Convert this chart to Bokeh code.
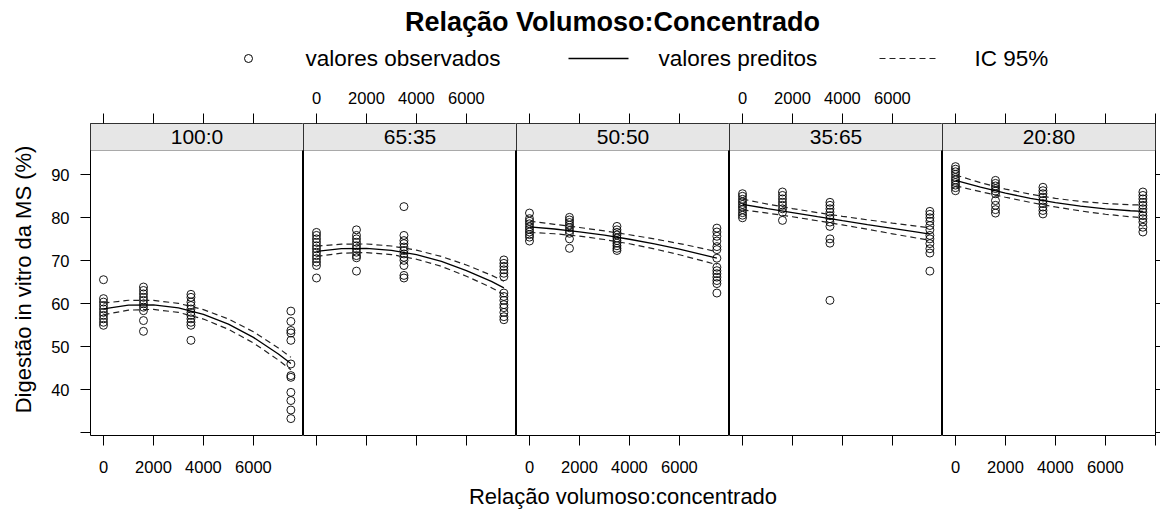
from bokeh.plotting import figure
from bokeh.models import Range1d, LinearAxis, FixedTicker, BoxAnnotation, Label
from bokeh.layouts import row, column
from bokeh.embed import file_html
from bokeh.resources import INLINE
from bokeh.core.properties import value

FONT = "Liberation Sans"

# ---------------- data ----------------
panel_labels = ["100:0", "65:35", "50:50", "35:65", "20:80"]
x_levels = [0, 1600, 3500, 7500]

obs_100_0 = [
    [65.6, 61.2, 60.4, 59.6, 58.8, 58.0, 57.3, 56.5, 55.7, 55.0],
    [63.9, 63.1, 62.3, 61.5, 60.8, 60.0, 59.2, 58.4, 56.1, 53.6],
    [62.2, 61.5, 60.4, 59.6, 58.8, 58.0, 57.3, 56.5, 55.7, 55.0, 51.5],
    [58.3, 55.9, 53.8, 53.2, 51.5, 46.0, 43.3, 42.9, 39.4, 37.5, 35.3, 33.3],
]
obs_65_35 = [
    [76.6, 75.9, 75.1, 74.3, 73.5, 72.8, 72.0, 71.2, 70.5, 69.7, 68.9, 66.0],
    [77.2, 75.9, 75.1, 74.3, 73.5, 72.8, 72.0, 71.2, 70.7, 67.6],
    [82.6, 75.9, 74.7, 74.0, 73.2, 72.4, 71.6, 70.8, 70.1, 68.9, 66.6, 66.0],
    [70.2, 69.4, 68.7, 67.9, 67.1, 66.3, 62.5, 61.7, 60.8, 59.8, 59.1, 58.0, 57.0, 56.3],
]
obs_50_50 = [
    [81.1, 79.8, 79.2, 78.6, 77.9, 77.3, 76.7, 76.1, 75.5, 74.6],
    [80.1, 79.5, 78.9, 78.3, 77.7, 77.0, 76.4, 75.1, 72.9],
    [78.0, 77.2, 76.6, 76.0, 75.3, 74.7, 74.1, 73.5, 72.9, 72.4],
    [77.6, 76.7, 75.7, 74.6, 73.3, 72.6, 70.6, 68.5, 67.7, 67.0, 66.2, 65.4, 64.7, 62.5],
]
obs_35_65 = [
    [85.6, 85.0, 84.3, 83.7, 83.1, 82.5, 81.9, 81.2, 80.6, 80.0],
    [86.0, 85.2, 84.4, 83.6, 82.9, 82.1, 81.3, 79.4],
    [83.6, 82.9, 82.1, 81.3, 80.5, 79.8, 79.0, 78.0, 75.1, 74.1, 60.8],
    [81.5, 80.8, 80.0, 79.2, 78.2, 77.2, 75.9, 75.1, 74.0, 72.8, 71.8, 67.6],
]
obs_20_80 = [
    [91.9, 91.3, 90.7, 90.1, 89.4, 88.8, 88.2, 87.6, 87.0, 86.3],
    [88.7, 88.0, 87.4, 86.8, 86.2, 85.6, 84.0, 82.9, 81.9, 81.1],
    [87.1, 86.3, 85.6, 84.8, 84.0, 83.3, 82.5, 81.7, 80.9],
    [86.0, 85.2, 84.4, 83.6, 82.9, 82.1, 81.3, 80.5, 79.8, 79.0, 77.8, 76.7],
]

x_pred = [0, 1000, 2000, 3000, 4000, 5000, 6000, 7000, 7500]
pred_100_0 = [58.8, 59.67, 59.75, 59.05, 57.55, 55.27, 52.19, 48.32, 46.1]
hi_100_0 = [60.15, 60.82, 60.8, 60.1, 58.65, 56.47, 53.49, 49.72, 47.55]
lo_100_0 = [57.45, 58.52, 58.7, 58.0, 56.45, 54.07, 50.89, 46.92, 44.65]
pred_65_35 = [72.2, 72.83, 72.91, 72.44, 71.42, 69.85, 67.72, 65.2, 63.7]
hi_65_35 = [73.4, 73.88, 73.91, 73.44, 72.47, 71.0, 69.02, 66.65, 65.25]
lo_65_35 = [71.0, 71.78, 71.91, 71.44, 70.37, 68.7, 66.42, 63.75, 62.15]
pred_50_50 = [77.9, 77.39, 76.74, 75.95, 75.01, 73.93, 72.71, 71.34, 70.6]
hi_50_50 = [79.2, 78.49, 77.74, 76.95, 76.06, 75.08, 74.01, 72.79, 72.1]
lo_50_50 = [76.6, 76.29, 75.74, 74.95, 73.96, 72.78, 71.41, 69.89, 69.1]
pred_35_65 = [83.1, 82.14, 81.2, 80.26, 79.34, 78.43, 77.53, 76.65, 76.2]
hi_35_65 = [84.35, 83.19, 82.15, 81.21, 80.34, 79.53, 78.78, 78.05, 77.65]
lo_35_65 = [81.85, 81.09, 80.25, 79.31, 78.34, 77.33, 76.28, 75.25, 74.75]
pred_20_80 = [88.7, 87.12, 85.73, 84.53, 83.52, 82.7, 82.08, 81.64, 81.5]
hi_20_80 = [89.95, 88.17, 86.68, 85.48, 84.52, 83.8, 83.33, 83.04, 82.95]
lo_20_80 = [87.45, 86.07, 84.78, 83.58, 82.52, 81.6, 80.83, 80.24, 80.05]

observed = [obs_100_0, obs_65_35, obs_50_50, obs_35_65, obs_20_80]
predicted = [pred_100_0, pred_65_35, pred_50_50, pred_35_65, pred_20_80]
upper = [hi_100_0, hi_65_35, hi_50_50, hi_35_65, hi_20_80]
lower = [lo_100_0, lo_65_35, lo_50_50, lo_35_65, lo_20_80]

x_ticks = [0, 2000, 4000, 6000, 8000]
x_tick_labels = ["0", "2000", "4000", "6000", ""]
y_ticks = [30, 40, 50, 60, 70, 80, 90]
y_tick_labels = ["", "40", "50", "60", "70", "80", "90"]

title_text = "Relação Volumoso:Concentrado"
legend_labels = ["valores observados", "valores preditos", "IC 95%"]
x_title = "Relação volumoso:concentrado"
y_title = "Digestão in vitro da MS (%)"

# ---------------- styling helpers ----------------
TOTAL_W = 1160
X_RANGE = (-520, 8005)
Y_RANGE = (29.37, 101.93)
STRIP_BOTTOM = 95.65
STRIP_MID = 98.8
TICK_FS = "16.5px"
PANEL_W = 213
LEFT_B = 90
DASH = "6 4"


def style_axis(ax, standoff):
    ax.axis_line_color = None
    ax.major_tick_line_color = "black"
    ax.major_tick_line_width = 1
    ax.major_tick_in = 0
    ax.major_tick_out = 10
    ax.minor_tick_line_color = None
    ax.major_label_text_font = FONT
    ax.major_label_text_font_size = TICK_FS
    ax.major_label_text_color = "black"
    ax.major_label_standoff = standoff
    return ax


def x_axis(show):
    return LinearAxis(ticker=FixedTicker(ticks=x_ticks),
                      major_label_overrides={t: (l if show else "") for t, l in zip(x_ticks, x_tick_labels)})


def y_axis(show):
    return LinearAxis(ticker=FixedTicker(ticks=y_ticks),
                      major_label_overrides={t: (l if show else "") for t, l in zip(y_ticks, y_tick_labels)})


right_b = TOTAL_W - LEFT_B - 5 * PANEL_W

panels = []
for i, lab in enumerate(panel_labels):
    first = i == 0
    last = i == len(panel_labels) - 1
    p = figure(frame_width=PANEL_W, frame_height=312,
               x_range=Range1d(*X_RANGE), y_range=Range1d(*Y_RANGE),
               output_backend="svg", toolbar_location=None,
               x_axis_location=None, y_axis_location=None,
               min_border_left=LEFT_B if first else 0,
               min_border_right=right_b if last else 0,
               min_border_top=43, min_border_bottom=48)
    p.grid.grid_line_color = None
    p.outline_line_color = "black"
    p.outline_line_width = 1
    p.background_fill_color = "white"
    p.border_fill_color = "white"

    strip = BoxAnnotation(bottom=STRIP_BOTTOM, fill_color="#e6e6e6", fill_alpha=1,
                          line_color="black", line_width=1, level="underlay")
    p.add_layout(strip)
    p.add_layout(Label(x=(X_RANGE[0] + X_RANGE[1]) / 2, y=STRIP_MID, text=lab,
                       text_align="center", text_baseline="middle",
                       text_font=FONT, text_font_size="21px", text_color="black"))

    top = style_axis(x_axis(i % 2 == 1), 10)
    p.add_layout(top, "above")
    bottom = style_axis(x_axis(i % 2 == 0), 15)
    p.add_layout(bottom, "below")

    if first:
        left = style_axis(y_axis(True), 11)
        left.axis_label = y_title
        left.axis_label_text_font = FONT
        left.axis_label_text_font_size = "22px"
        left.axis_label_text_font_style = "normal"
        left.axis_label_text_color = "black"
        left.axis_label_standoff = 12
        p.add_layout(left, "left")
    if last:
        right = style_axis(y_axis(False), 0)
        right.major_tick_out = right_b
        p.add_layout(right, "right")

    for xv, ys in zip(x_levels, observed[i]):
        p.scatter([xv] * len(ys), ys, marker="circle", size=8,
                  fill_color=None, line_color="black", line_width=1, line_alpha=0.9)

    p.line(x_pred, upper[i], line_color="#222222", line_width=1.2, line_dash=DASH)
    p.line(x_pred, lower[i], line_color="#222222", line_width=1.2, line_dash=DASH)
    p.line(x_pred, predicted[i], line_color="black", line_width=1.3)
    panels.append(p)

# ---------------- header (title + legend) ----------------
H_H = 80
h = figure(width=TOTAL_W, height=H_H, x_range=Range1d(0, TOTAL_W), y_range=Range1d(H_H, 0),
           output_backend="svg", toolbar_location=None,
           x_axis_location=None, y_axis_location=None, min_border=0)
h.grid.grid_line_color = None
h.outline_line_color = None

h.text(x=[612], y=[21], text=[title_text], text_font=value(FONT), text_font_style="bold",
       text_font_size="27px", text_align="center", text_baseline="middle", text_color="black")

LEG_Y = 58
LEG_FS = "22.5px"
h.scatter([248], [LEG_Y], marker="circle", size=8, fill_color=None, line_color="black", line_width=1)
h.text(x=[305], y=[LEG_Y], text=[legend_labels[0]], text_font=value(FONT), text_font_size=LEG_FS,
       text_align="left", text_baseline="middle", text_color="black")
h.line([568, 628], [LEG_Y, LEG_Y], line_color="black", line_width=1.3)
h.text(x=[658], y=[LEG_Y], text=[legend_labels[1]], text_font=value(FONT), text_font_size=LEG_FS,
       text_align="left", text_baseline="middle", text_color="black")
h.line([879, 939], [LEG_Y, LEG_Y], line_color="#222222", line_width=1.2, line_dash=DASH)
h.text(x=[974], y=[LEG_Y], text=[legend_labels[2]], text_font=value(FONT), text_font_size=LEG_FS,
       text_align="left", text_baseline="middle", text_color="black")

# ---------------- footer (x axis title) ----------------
F_H = 27
f = figure(width=TOTAL_W, height=F_H, x_range=Range1d(0, TOTAL_W), y_range=Range1d(F_H, 0),
           output_backend="svg", toolbar_location=None,
           x_axis_location=None, y_axis_location=None, min_border=0)
f.grid.grid_line_color = None
f.outline_line_color = None
f.text(x=[LEFT_B + 5 * PANEL_W / 2], y=[13], text=[x_title], text_font=value(FONT),
       text_font_size="22px", text_align="center", text_baseline="middle", text_color="black")

layout = column(h, row(*panels), f)
open("out.html", "w").write(file_html(layout, INLINE))
